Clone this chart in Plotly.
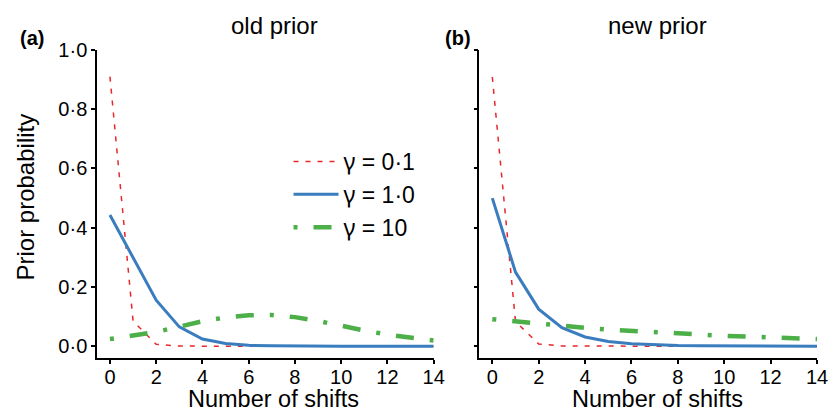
import plotly.graph_objects as go
from plotly.subplots import make_subplots

shifts = list(range(15))

# old prior
old_g01 = [0.91, 0.085, 0.006, 0.0005, 0, 0, 0, 0, 0, 0, 0, 0, 0, 0, 0]
old_g1 = [0.443, 0.30, 0.155, 0.065, 0.024, 0.009, 0.003, 0.001, 0, 0, 0, 0, 0, 0, 0]
old_g10 = [0.024, 0.035, 0.048, 0.066, 0.084, 0.097, 0.104, 0.105, 0.098, 0.085, 0.068, 0.053, 0.039, 0.028, 0.019]

# new prior
new_g01 = [0.909, 0.083, 0.0075, 0.0007, 0.0001, 0, 0, 0, 0, 0, 0, 0, 0, 0, 0]
new_g1 = [0.5, 0.25, 0.125, 0.0625, 0.031, 0.016, 0.008, 0.004, 0.002, 0.001, 0.0005, 0.0002, 0.0001, 0, 0]
new_g10 = [0.091, 0.083, 0.075, 0.068, 0.062, 0.056, 0.051, 0.047, 0.042, 0.039, 0.035, 0.032, 0.029, 0.026, 0.024]

GAMMA = '<span style="font-family:Noto Sans">γ</span>'
names = [GAMMA + " = 0·1", GAMMA + " = 1·0", GAMMA + " = 10"]
ytickvals = [0, 0.2, 0.4, 0.6, 0.8, 1.0]
yticktext = ["0·0", "0·2", "0·4", "0·6", "0·8", "1·0"]
xtickvals = [0, 2, 4, 6, 8, 10, 12, 14]

styles = [
    dict(color="#e8262a", width=1.5, dash="5px,7px"),
    dict(color="#3a7dbf", width=3, dash="solid"),
    dict(color="#4caf48", width=4.5, dash="4px,16px,18px,16px"),
]

FONT = "Liberation Sans, Arial, sans-serif"

fig = make_subplots(rows=1, cols=2, horizontal_spacing=0.0635)
for col, series in ((1, [old_g01, old_g1, old_g10]), (2, [new_g01, new_g1, new_g10])):
    for i, ys in enumerate(series):
        fig.add_trace(go.Scatter(x=shifts, y=ys, mode="lines", name=names[i],
                                 line=styles[i], showlegend=(col == 1),
                                 cliponaxis=False),
                      row=1, col=col)

axis_common = dict(showline=True, linecolor="black", linewidth=1.5, ticks="outside",
                   ticklen=4, tickwidth=1.5, tickcolor="black", showgrid=False,
                   zeroline=False, tickfont=dict(size=20, color="black", family=FONT))

fig.update_xaxes(range=[-0.56, 14], tickvals=xtickvals, ticklabelstandoff=-4, **axis_common)
fig.update_yaxes(range=[-0.04, 1.0], tickvals=ytickvals, ticktext=yticktext, **axis_common)
fig.update_yaxes(showticklabels=False, row=1, col=2)
fig.update_xaxes(domain=[0, 0.4676], row=1, col=1)
fig.update_xaxes(domain=[0.531, 1.0], row=1, col=2)

ann = []
def A(text, x, y, size=24, bold=False, angle=0):
    ann.append(dict(text=("<b>%s</b>" % text) if bold else text, x=x, y=y, xref="paper", yref="paper",
                    showarrow=False, xanchor="center", yanchor="middle", textangle=angle,
                    font=dict(size=size, color="black", family=FONT)))

A("old prior", 0.2469, 1.081)
A("new prior", 0.778, 1.081)
A("(a)", -0.0897, 1.039, size=20, bold=True)
A("(b)", 0.502, 1.039, size=20, bold=True)
A("Number of shifts", 0.2455, -0.1331, size=23.5)
A("Number of shifts", 0.778, -0.1331, size=23.5)
A("Prior probability", -0.0993, 0.5227, angle=-90)

fig.update_layout(
    width=840, height=415,
    margin=dict(l=97, r=18, t=50, b=57),
    plot_bgcolor="white", paper_bgcolor="white",
    font=dict(family=FONT, color="black"),
    annotations=ann,
    legend=dict(x=0.266, y=0.708, xanchor="left", yanchor="top", bgcolor="rgba(0,0,0,0)",
                font=dict(size=23, color="black", family=FONT), tracegroupgap=0,
                itemwidth=45),
    showlegend=True,
)

fig.write_html("out.html", config={"displayModeBar": False},
               post_script="document.body.style.margin='0px';document.body.style.overflow='hidden';")
